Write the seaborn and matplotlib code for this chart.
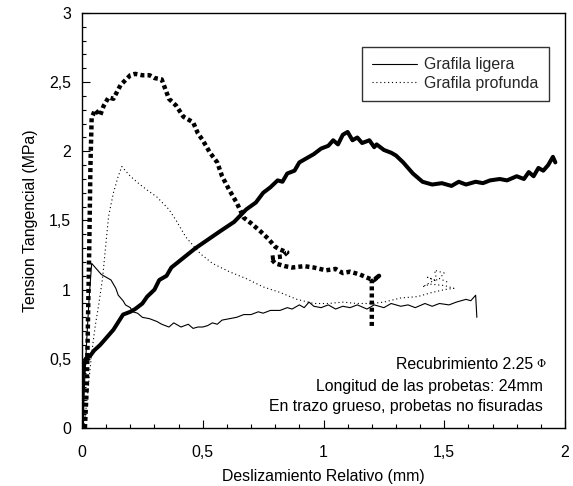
import matplotlib
matplotlib.use("Agg")
import matplotlib.pyplot as plt
import seaborn as sns
from matplotlib.ticker import MultipleLocator, FuncFormatter

# Thick solid: Grafila ligera, no fisurada
ligera_nf_x = [0, 0.003, 0.008, 0.015, 0.033, 0.05, 0.075, 0.10, 0.13, 0.17, 0.20, 0.22, 0.25, 0.27, 0.30, 0.32,
               0.35, 0.37, 0.42, 0.47, 0.52, 0.57, 0.63, 0.68, 0.72, 0.75, 0.78, 0.81, 0.83, 0.85, 0.88, 0.90,
               0.93, 0.96, 0.99, 1.02, 1.04, 1.06, 1.08, 1.10, 1.12, 1.14, 1.16, 1.19, 1.21, 1.22, 1.25, 1.28,
               1.30, 1.33, 1.35, 1.37, 1.41, 1.45, 1.49, 1.53, 1.56, 1.59, 1.63, 1.66, 1.69, 1.73, 1.76, 1.80,
               1.83, 1.85, 1.87, 1.89, 1.91, 1.93, 1.95, 1.96]
ligera_nf_y = [0, 0.38, 0.45, 0.50, 0.52, 0.56, 0.60, 0.65, 0.71, 0.82, 0.84, 0.86, 0.90, 0.95, 1.00, 1.07,
               1.10, 1.16, 1.23, 1.30, 1.36, 1.42, 1.49, 1.58, 1.63, 1.70, 1.74, 1.79, 1.78, 1.84, 1.86, 1.92,
               1.95, 1.98, 2.02, 2.04, 2.08, 2.05, 2.12, 2.14, 2.08, 2.10, 2.06, 2.08, 2.03, 2.05, 2.01, 1.99,
               1.97, 1.92, 1.88, 1.84, 1.78, 1.76, 1.77, 1.75, 1.78, 1.76, 1.78, 1.77, 1.79, 1.80, 1.79, 1.82,
               1.80, 1.85, 1.82, 1.88, 1.86, 1.90, 1.96, 1.92]

# Thick dotted: Grafila profunda, no fisurada
profunda_nf_x = [0.012, 0.02, 0.025, 0.03, 0.035, 0.04, 0.054, 0.075, 0.09, 0.11, 0.13, 0.16, 0.20, 0.22, 0.25,
                 0.28, 0.30, 0.33, 0.36, 0.39, 0.42, 0.46, 0.48, 0.50, 0.53, 0.56, 0.58, 0.61, 0.64, 0.67,
                 0.70, 0.74, 0.77, 0.80, 0.82, 0.85, 0.83, 0.78, 0.80, 0.84, 0.87, 0.92, 0.96, 1.01, 1.05,
                 1.08, 1.11, 1.15, 1.19, 1.21, 1.23, 1.20, 1.20]
profunda_nf_y = [0.0, 0.3, 0.8, 1.3, 1.9, 2.24, 2.30, 2.26, 2.33, 2.39, 2.38, 2.48, 2.55, 2.56, 2.55,
                 2.55, 2.53, 2.52, 2.38, 2.33, 2.25, 2.21, 2.13, 2.08, 1.99, 1.92, 1.82, 1.72, 1.63, 1.52,
                 1.48, 1.42, 1.37, 1.31, 1.29, 1.27, 1.24, 1.23, 1.19, 1.17, 1.16, 1.17, 1.16, 1.14, 1.15,
                 1.12, 1.13, 1.11, 1.08, 1.07, 1.10, 1.06, 0.73]

# Thin solid: Grafila ligera
ligera_x = [0, 0.01, 0.02, 0.03, 0.04, 0.06, 0.08, 0.10, 0.12, 0.14, 0.15, 0.17, 0.18, 0.20, 0.21, 0.23, 0.25,
            0.28, 0.31, 0.33, 0.36, 0.38, 0.41, 0.44, 0.46, 0.48, 0.50, 0.52, 0.54, 0.56, 0.58, 0.61, 0.64,
            0.67, 0.70, 0.73, 0.75, 0.78, 0.82, 0.85, 0.87, 0.90, 0.92, 0.94, 0.96, 0.99, 1.02, 1.05, 1.08,
            1.11, 1.14, 1.18, 1.21, 1.25, 1.28, 1.32, 1.35, 1.38, 1.42, 1.45, 1.48, 1.52, 1.55, 1.59, 1.61,
            1.63, 1.635]
ligera_y = [0, 0.30, 0.65, 0.95, 1.19, 1.15, 1.11, 1.09, 1.07, 1.01, 0.96, 0.92, 0.89, 0.87, 0.84, 0.83, 0.80,
            0.79, 0.77, 0.75, 0.73, 0.76, 0.73, 0.75, 0.72, 0.73, 0.73, 0.74, 0.76, 0.75, 0.78, 0.79, 0.80,
            0.82, 0.82, 0.84, 0.83, 0.85, 0.85, 0.87, 0.86, 0.89, 0.87, 0.91, 0.88, 0.87, 0.89, 0.86, 0.88,
            0.87, 0.89, 0.86, 0.89, 0.87, 0.90, 0.88, 0.89, 0.87, 0.90, 0.88, 0.90, 0.89, 0.91, 0.93, 0.92,
            0.96, 0.80]

# Thin dotted: Grafila profunda
profunda_x = [0.005, 0.012, 0.026, 0.04, 0.055, 0.07, 0.085, 0.095, 0.11, 0.13, 0.15, 0.165, 0.20, 0.24, 0.27,
              0.31, 0.36, 0.39, 0.43, 0.49, 0.54, 0.61, 0.68, 0.75, 0.82, 0.89, 0.96, 1.02, 1.08, 1.14, 1.20,
              1.25, 1.32, 1.39, 1.45, 1.50, 1.54, 1.50, 1.44, 1.41, 1.46, 1.43, 1.47, 1.46, 1.50, 1.48, 1.52]
profunda_y = [0, 0.06, 0.30, 0.54, 0.74, 0.90, 1.08, 1.26, 1.53, 1.70, 1.82, 1.89, 1.82, 1.76, 1.72,
              1.67, 1.58, 1.50, 1.38, 1.26, 1.19, 1.13, 1.08, 1.02, 0.98, 0.93, 0.90, 0.90, 0.91, 0.90, 0.90,
              0.91, 0.94, 0.95, 0.98, 1.00, 1.01, 1.03, 1.04, 1.02, 1.07, 1.09, 1.06, 1.14, 1.12, 1.08, 1.05]

legend_labels = ["Grafila ligera", "Grafila profunda"]
annotation_lines = ["Recubrimiento 2.25", "Longitud de las probetas: 24mm",
                    "En trazo grueso, probetas no fisuradas"]
phi_symbol = "\u03a6"

sns.set_theme(style="white")
plt.rcParams["font.family"] = ["Liberation Sans", "DejaVu Sans"]

FS = 11.4
fig = plt.figure(figsize=(5.73, 4.86), dpi=100)
ax = fig.add_axes([82 / 573, 1 - 428 / 486, (565 - 82) / 573, (428 - 13) / 486])

sns.lineplot(x=ligera_nf_x, y=ligera_nf_y, sort=False, estimator=None, ax=ax,
             color="black", linewidth=2.9, solid_joinstyle="round")
sns.lineplot(x=profunda_nf_x, y=profunda_nf_y, sort=False, estimator=None, ax=ax,
             color="black", linewidth=3.2, linestyle=(0, (0.9, 0.7)))
sns.lineplot(x=ligera_x, y=ligera_y, sort=False, estimator=None, ax=ax,
             color="black", linewidth=0.8, label=legend_labels[0])
sns.lineplot(x=profunda_x, y=profunda_y, sort=False, estimator=None, ax=ax,
             color="black", linewidth=0.8, linestyle=(0, (1, 2.5)), label=legend_labels[1])

ax.set_xlim(0, 2)
ax.set_ylim(0, 3)
ax.xaxis.set_major_locator(MultipleLocator(0.5))
ax.xaxis.set_minor_locator(MultipleLocator(0.1))
ax.yaxis.set_major_locator(MultipleLocator(0.5))
ax.yaxis.set_minor_locator(MultipleLocator(0.1))
fmt = FuncFormatter(lambda v, p: ("%g" % v).replace(".", ","))
ax.xaxis.set_major_formatter(fmt)
ax.yaxis.set_major_formatter(fmt)
ax.tick_params(which="major", direction="in", length=6, width=0.8, color="black",
               labelsize=FS, labelcolor="black")
ax.tick_params(which="minor", direction="in", length=3, width=0.8, color="black")
ax.tick_params(axis="x", which="major", pad=12)
ax.tick_params(axis="y", which="major", pad=8)
ax.tick_params(axis="x", which="both", bottom=True, top=False)
ax.tick_params(axis="y", which="both", left=True, right=False)
for s in ax.spines.values():
    s.set_color("black")
    s.set_linewidth(1.0)

ax.set_xlabel("Deslizamiento Relativo (mm)", fontsize=FS, color="black", labelpad=7)
ax.set_ylabel("Tension Tangencial (MPa)", fontsize=FS, color="black", labelpad=8)

leg = ax.legend(loc="upper right", bbox_to_anchor=(0.967, 0.918), borderaxespad=0,
                fontsize=FS, frameon=True, fancybox=False, handlelength=2.85,
                borderpad=0.65, labelspacing=0.22, handletextpad=0.45)
leg.get_frame().set_edgecolor("black")
leg.get_frame().set_linewidth(1.0)

for txt, yy in zip(annotation_lines, [0.152, 0.099, 0.051]):
    xx = 0.934 if txt == annotation_lines[0] else 0.954
    ax.text(xx, yy, txt, transform=ax.transAxes, ha="right", va="center",
            fontsize=FS, color="black")
ax.text(0.940, 0.154, phi_symbol, transform=ax.transAxes, ha="left", va="center",
        fontsize=8, color="black", family=["DejaVu Serif"])

fig.savefig("out.png", dpi=100)
